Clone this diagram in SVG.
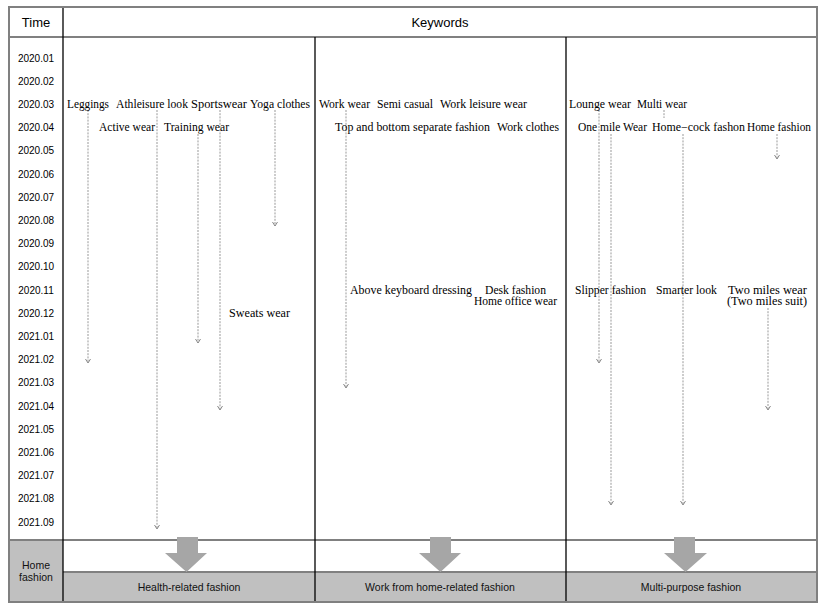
<svg xmlns="http://www.w3.org/2000/svg" width="827" height="610" viewBox="0 0 827 610">
<style>
.grid{stroke:#808080;stroke-width:2;fill:none}
.blk{stroke:#000;stroke-width:1.3}
.t{font-family:"Liberation Sans",Arial,sans-serif;font-size:10px;fill:#000;text-anchor:middle}
.h{font-family:"Liberation Sans",Arial,sans-serif;font-size:13px;fill:#000;text-anchor:middle}
.k{font-family:"Liberation Serif","Times New Roman",serif;font-size:11.5px;fill:#000}
.b{font-family:"Liberation Sans",Arial,sans-serif;font-size:10.5px;fill:#111;text-anchor:middle}
.d{stroke:#999;stroke-width:1;stroke-dasharray:2,1.2;fill:none;marker-end:url(#ah)}
.big{fill:#a6a6a6}
</style>
<defs>
<marker id="ah" markerWidth="6" markerHeight="6" refX="5" refY="3" orient="auto" markerUnits="userSpaceOnUse" viewBox="0 0 6 6">
<path d="M1,0.5 L5,3 L1,5.5" fill="none" stroke="#888" stroke-width="1"/>
</marker>
</defs>
<rect x="0" y="0" width="827" height="610" fill="#fff"/>
<g id="table">
<rect x="9" y="540" width="54" height="62" fill="#c0c0c0"/>
<rect x="63" y="572" width="754" height="30" fill="#c0c0c0"/>
<line class="grid" x1="9" y1="37" x2="817" y2="37"/>
<line class="grid" x1="9" y1="540" x2="817" y2="540"/>
<line class="grid" x1="63" y1="572" x2="817" y2="572"/>
<line class="blk" x1="63" y1="7" x2="63" y2="602"/>
<line class="blk" x1="315" y1="37" x2="315" y2="602"/>
<line class="blk" x1="566" y1="37" x2="566" y2="602"/>
<rect class="grid" x="9" y="7" width="808" height="595"/>
</g>
<g id="header">
<text class="h" x="36" y="27">Time</text>
<text class="h" x="440" y="27">Keywords</text>
</g>
<g id="time-labels">
<text class="t" x="36" y="61.5">2020.01</text>
<text class="t" x="36" y="84.7">2020.02</text>
<text class="t" x="36" y="107.9">2020.03</text>
<text class="t" x="36" y="131.1">2020.04</text>
<text class="t" x="36" y="154.3">2020.05</text>
<text class="t" x="36" y="177.5">2020.06</text>
<text class="t" x="36" y="200.7">2020.07</text>
<text class="t" x="36" y="223.9">2020.08</text>
<text class="t" x="36" y="247.1">2020.09</text>
<text class="t" x="36" y="270.3">2020.10</text>
<text class="t" x="36" y="293.5">2020.11</text>
<text class="t" x="36" y="316.7">2020.12</text>
<text class="t" x="36" y="339.9">2021.01</text>
<text class="t" x="36" y="363.1">2021.02</text>
<text class="t" x="36" y="386.3">2021.03</text>
<text class="t" x="36" y="409.5">2021.04</text>
<text class="t" x="36" y="432.7">2021.05</text>
<text class="t" x="36" y="455.9">2021.06</text>
<text class="t" x="36" y="479.1">2021.07</text>
<text class="t" x="36" y="502.3">2021.08</text>
<text class="t" x="36" y="525.5">2021.09</text>
</g>
<g id="connectors">
<line class="d" x1="88" y1="110" x2="88" y2="363"/>
<line class="d" x1="157" y1="110" x2="157" y2="529"/>
<line class="d" x1="198" y1="134" x2="198" y2="343"/>
<line class="d" x1="220" y1="110" x2="220" y2="410"/>
<line class="d" x1="275" y1="110" x2="275" y2="226"/>
<line class="d" x1="346" y1="110" x2="346" y2="388"/>
<line class="d" x1="599" y1="110" x2="599" y2="363"/>
<line class="d" x1="611" y1="134" x2="611" y2="505"/>
<line stroke="#999" stroke-width="1" stroke-dasharray="2,1.2" x1="664" y1="110" x2="664" y2="118"/>
<line class="d" x1="683" y1="134" x2="683" y2="505"/>
<line class="d" x1="777" y1="134" x2="777" y2="159"/>
<line class="d" x1="768" y1="308" x2="768" y2="410"/>
</g>
<g id="col-health">
<text class="k" x="67" y="108" textLength="42" lengthAdjust="spacingAndGlyphs">Leggings</text>
<text class="k" x="116" y="108" textLength="72" lengthAdjust="spacingAndGlyphs">Athleisure look</text>
<text class="k" x="191" y="108" textLength="56" lengthAdjust="spacingAndGlyphs">Sportswear</text>
<text class="k" x="250" y="108" textLength="60" lengthAdjust="spacingAndGlyphs">Yoga clothes</text>
<text class="k" x="99" y="131" textLength="56" lengthAdjust="spacingAndGlyphs">Active wear</text>
<text class="k" x="164" y="131" textLength="65" lengthAdjust="spacingAndGlyphs">Training wear</text>
<text class="k" x="229" y="317" textLength="61" lengthAdjust="spacingAndGlyphs">Sweats wear</text>
</g>
<g id="col-work">
<text class="k" x="319" y="108" textLength="51" lengthAdjust="spacingAndGlyphs">Work wear</text>
<text class="k" x="377" y="108" textLength="56" lengthAdjust="spacingAndGlyphs">Semi casual</text>
<text class="k" x="440" y="108" textLength="87" lengthAdjust="spacingAndGlyphs">Work leisure wear</text>
<text class="k" x="335" y="131" textLength="155" lengthAdjust="spacingAndGlyphs">Top and bottom separate fashion</text>
<text class="k" x="497" y="131" textLength="62" lengthAdjust="spacingAndGlyphs">Work clothes</text>
<text class="k" x="350" y="294" textLength="122" lengthAdjust="spacingAndGlyphs">Above keyboard dressing</text>
<text class="k" x="485" y="294" textLength="61" lengthAdjust="spacingAndGlyphs">Desk fashion</text>
<text class="k" x="474" y="305" textLength="83" lengthAdjust="spacingAndGlyphs">Home office wear</text>
</g>
<g id="col-multi">
<text class="k" x="569" y="108" textLength="62" lengthAdjust="spacingAndGlyphs">Lounge wear</text>
<text class="k" x="637" y="108" textLength="50" lengthAdjust="spacingAndGlyphs">Multi wear</text>
<text class="k" x="578" y="131" textLength="69" lengthAdjust="spacingAndGlyphs">One mile Wear</text>
<text class="k" x="652" y="131" textLength="93" lengthAdjust="spacingAndGlyphs">Home−cock fashon</text>
<text class="k" x="747" y="131" textLength="64" lengthAdjust="spacingAndGlyphs">Home fashion</text>
<text class="k" x="575" y="294" textLength="71" lengthAdjust="spacingAndGlyphs">Slipper fashion</text>
<text class="k" x="656" y="294" textLength="61" lengthAdjust="spacingAndGlyphs">Smarter look</text>
<text class="k" x="728" y="294" textLength="79" lengthAdjust="spacingAndGlyphs">Two miles wear</text>
<text class="k" x="727" y="305" textLength="80" lengthAdjust="spacingAndGlyphs">(Two miles suit)</text>
</g>
<g id="arrows">
<path class="big" d="M177,537 H198 V553 H207 L186.5,572 L165,553 H177 Z"/>
<path class="big" d="M430,537 H451 V553 H461 L440.5,572 L419,553 H430 Z"/>
<path class="big" d="M674,537 H695 V553 H707 L685.5,572 L664,553 H674 Z"/>
</g>
<g id="summary">
<text class="b" x="36" y="569">Home</text>
<text class="b" x="36" y="581">fashion</text>
<text class="b" x="189" y="591">Health-related fashion</text>
<text class="b" x="440" y="591">Work from home-related fashion</text>
<text class="b" x="691" y="591">Multi-purpose fashion</text>
</g>
</svg>
